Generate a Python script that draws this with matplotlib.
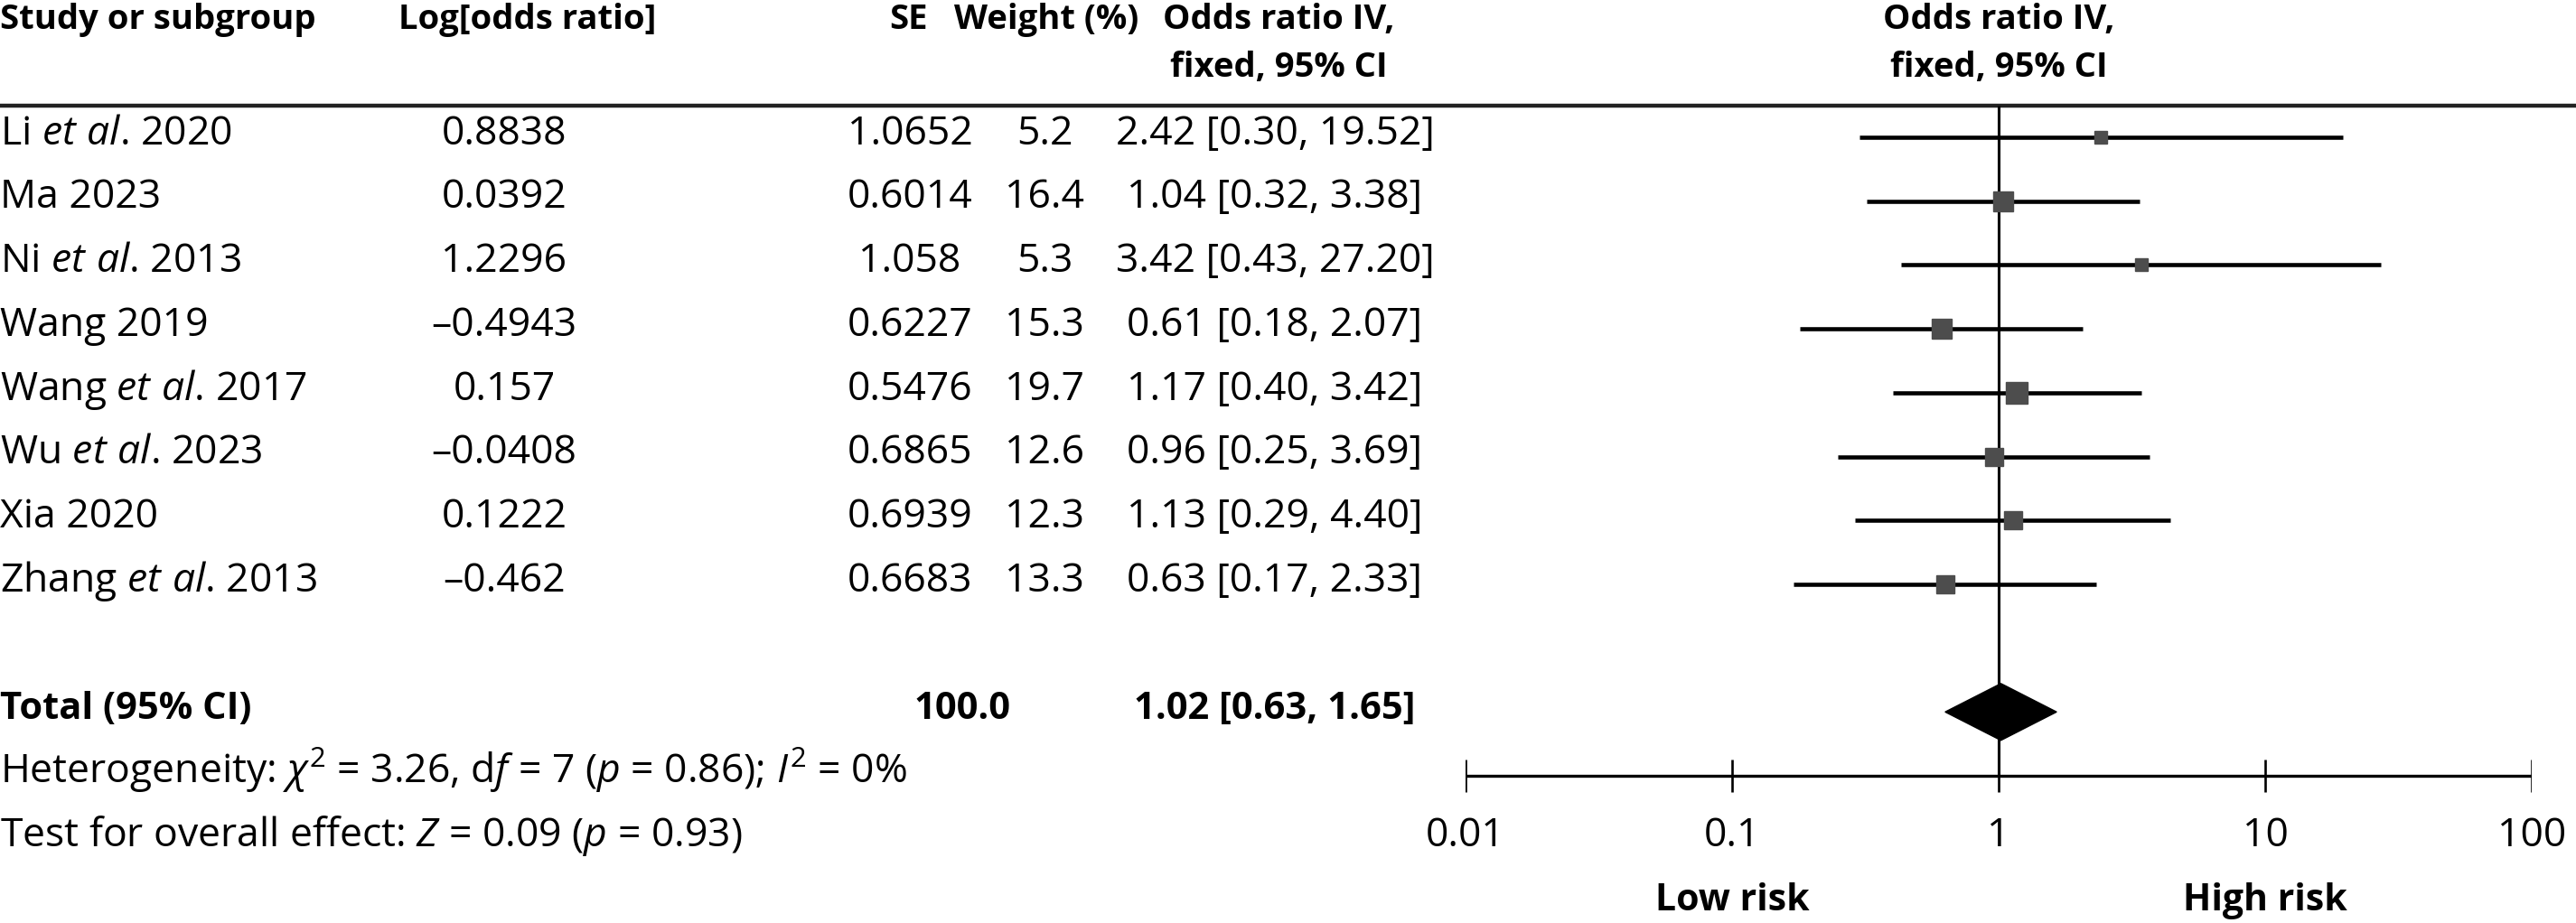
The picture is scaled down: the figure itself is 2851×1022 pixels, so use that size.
import matplotlib
matplotlib.use("Agg")
import matplotlib.pyplot as plt
from matplotlib.patches import Polygon

plt.rcParams['font.family'] = ['Open Sans', 'DejaVu Sans']
plt.rcParams['mathtext.fontset'] = 'custom'
plt.rcParams['mathtext.rm'] = 'Open Sans'
plt.rcParams['mathtext.it'] = 'Open Sans:italic'
plt.rcParams['mathtext.bf'] = 'Open Sans:bold'

# data
studies = [r"Li $\mathit{et\ al}$. 2020", "Ma 2023", r"Ni $\mathit{et\ al}$. 2013", "Wang 2019",
           r"Wang $\mathit{et\ al}$. 2017", r"Wu $\mathit{et\ al}$. 2023", "Xia 2020",
           r"Zhang $\mathit{et\ al}$. 2013"]
log_or = [0.8838, 0.0392, 1.2296, -0.4943, 0.157, -0.0408, 0.1222, -0.462]
se = [1.0652, 0.6014, 1.058, 0.6227, 0.5476, 0.6865, 0.6939, 0.6683]
weight = [5.2, 16.4, 5.3, 15.3, 19.7, 12.6, 12.3, 13.3]
odds = [2.42, 1.04, 3.42, 0.61, 1.17, 0.96, 1.13, 0.63]
ci_lo = [0.30, 0.32, 0.43, 0.18, 0.40, 0.25, 0.29, 0.17]
ci_hi = [19.52, 3.38, 27.20, 2.07, 3.42, 3.69, 4.40, 2.33]
total_or, total_lo, total_hi, total_w = 1.02, 0.63, 1.65, 100.0
ticks = [0.01, 0.1, 1, 10, 100]
tick_labels = ["0.01", "0.1", "1", "10", "100"]

W, H = 2851, 1022
y0, step = 152, 70.7   # pixel row layout
ytop, ybot = (0 - y0) / step, (H - y0) / step

fs = 32     # regular text
fh = 27.5   # header text
fb = 30     # bold text in the body
bl = 0.11   # baseline offset below row centre

fig = plt.figure(figsize=(W / 100, H / 100), dpi=100)

# table part, x in pixels, y in rows
ax = fig.add_axes([0, 0, 1, 1])
ax.set_xlim(0, W)
ax.set_ylim(ybot, ytop)
ax.axis('off')

# forest part, log scale
fx0, fx1 = 1622, 2802
fa = fig.add_axes([fx0 / W, 0, (fx1 - fx0) / W, 1])
fa.set_xscale('log')
fa.set_xlim(0.01, 100)
fa.set_ylim(ybot, ytop)
fa.axis('off')

col_lor, col_se, col_w, col_or = 558, 1007, 1156, 1411
hy1, hy2 = -1.70, -0.95
rule_y = -0.495

hdr = dict(fontsize=fh, fontweight='bold', va='baseline')
ax.text(0, hy1, "Study or subgroup", ha='left', **hdr)
ax.text(584, hy1, "Log[odds ratio]", ha='center', **hdr)
ax.text(1005, hy1, "SE", ha='center', **hdr)
ax.text(1158, hy1, "Weight (%)", ha='center', **hdr)
for hx in (1415, 2212):
    ax.text(hx, hy1, "Odds ratio IV,", ha='center', **hdr)
    ax.text(hx, hy2, "fixed, 95% CI", ha='center', **hdr)
ax.hlines(rule_y, 0, W, color='#222222', lw=3.2)

def fmt(v):
    return str(v).replace('-', '\u2013')

for i in range(len(studies)):
    yb = i + bl
    ax.text(0, yb, studies[i], fontsize=fs, va='baseline', ha='left')
    ax.text(col_lor, yb, fmt(log_or[i]), fontsize=fs, va='baseline', ha='center')
    ax.text(col_se, yb, fmt(se[i]), fontsize=fs, va='baseline', ha='center')
    ax.text(col_w, yb, f"{weight[i]:.1f}", fontsize=fs, va='baseline', ha='center')
    ax.text(col_or, yb, f"{odds[i]:.2f} [{ci_lo[i]:.2f}, {ci_hi[i]:.2f}]", fontsize=fs,
            va='baseline', ha='center')
    fa.hlines(i, ci_lo[i], ci_hi[i], color='black', lw=3.3)
    side = (11 + 0.7 * weight[i]) * 0.72
    fa.plot(odds[i], i, marker='s', ms=side, color='#4d4d4d', mec='#4d4d4d', zorder=3)

yt = len(studies) + 1
ax.text(0, yt + bl, "Total (95% CI)", fontsize=fb, fontweight='bold', va='baseline', ha='left')
ax.text(1065, yt + bl, f"{total_w:.1f}", fontsize=fb, fontweight='bold', va='baseline', ha='center')
ax.text(col_or, yt + bl, f"{total_or:.2f} [{total_lo:.2f}, {total_hi:.2f}]", fontsize=fb,
        fontweight='bold', va='baseline', ha='center')
ax.text(0, yt + 1 + bl,
        r"Heterogeneity: $\chi^2$ = 3.26, d$\mathit{f}$ = 7 ($\mathit{p}$ = 0.86); $\mathit{I}^2$ = 0%",
        fontsize=fs, va='baseline', ha='left')
ax.text(0, yt + 2 + bl, r"Test for overall effect: $\mathit{Z}$ = 0.09 ($\mathit{p}$ = 0.93)",
        fontsize=fs, va='baseline', ha='left')

# pooled estimate diamond
dh = 0.445
fa.add_patch(Polygon([(total_lo, yt), (total_or, yt - dh), (total_hi, yt), (total_or, yt + dh)],
                     closed=True, color='black', zorder=3))

# line of no effect and the axis
ya = yt + 1
fa.vlines(1, rule_y, ya, color='black', lw=2.2, zorder=2)
fa.hlines(ya, ticks[0], ticks[-1], color='black', lw=2.4)
fa.vlines(ticks, ya - 0.255, ya + 0.255, color='black', lw=1.9)
for t, lab in zip(ticks, tick_labels):
    fa.text(t, ya + 1 + bl, lab, fontsize=fs, va='baseline', ha='center')
fa.text(0.1, ya + 2 + bl, "Low risk", fontsize=29.5, fontweight='bold', va='baseline', ha='center')
fa.text(10, ya + 2 + bl, "High risk", fontsize=29.5, fontweight='bold', va='baseline', ha='center')

fig.savefig("out.png", dpi=100)
